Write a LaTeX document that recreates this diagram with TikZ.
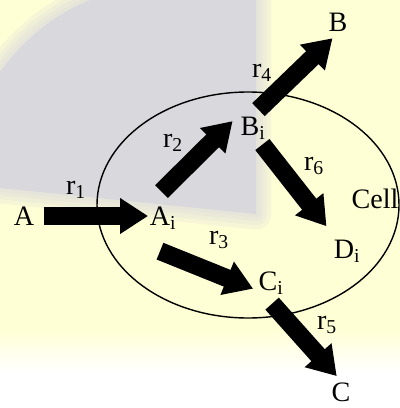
\documentclass[tikz,border=0pt]{standalone}
\usepackage{fontspec}
\setmainfont{Liberation Serif}
\usepackage{xcolor}
\usetikzlibrary{arrows.meta}

\definecolor{paleyellow}{RGB}{255,255,214}
\definecolor{wmgrey}{RGB}{217,216,221}

\begin{document}
\begin{tikzpicture}[
  x=0.025cm, y=-0.025cm,
  lbl/.style={inner sep=1pt, font=\fontsize{20}{23}\selectfont},
  flux/.style={-{Triangle[length=0.7cm,width=0.85cm]}, line width=0.45cm},
  cellwall/.style={draw, line width=1pt}
]
\useasboundingbox (0,0) rectangle (400,408);
% background
\fill[paleyellow] (0,0) rectangle (400,408);
\foreach \w in {22,16,10,5}
  \draw[wmgrey, opacity=0.22, line width=\w, line join=round]
    (90,0) -- (256,0) -- (256,214) -- (0,188) -- (0,72) .. controls (25,38) and (55,14) .. cycle;
\fill[wmgrey] (90,0) -- (256,0) -- (256,214) -- (0,188) -- (0,72) .. controls (25,38) and (55,14) .. cycle;
\shade[top color=paleyellow, bottom color=white] (0,330) rectangle (400,372);
\fill[white] (0,372) rectangle (400,408);

% the cell
\draw[cellwall] (248,205) ellipse [x radius=151, y radius=113];

\node[lbl] (A) at (24,216) {A};
\node[lbl] (Ai) at (163,218) {A\textsubscript{i}};
\node[lbl] (Bi) at (253,128) {B\textsubscript{i}};
\node[lbl] (B) at (338,22) {B};
\node[lbl] (Ci) at (271,283) {C\textsubscript{i}};
\node[lbl] (C) at (341,392) {C};
\node[lbl] (Di) at (347,251) {D\textsubscript{i}};
\node[lbl] (cellname) at (375,199) {Cell};

\node[lbl] (r1) at (76,190) {r\textsubscript{1}};
\node[lbl] (r2) at (173,143) {r\textsubscript{2}};
\node[lbl] (r3) at (219,240) {r\textsubscript{3}};
\node[lbl] (r4) at (262,73) {r\textsubscript{4}};
\node[lbl] (r5) at (327,325) {r\textsubscript{5}};
\node[lbl] (r6) at (314,166) {r\textsubscript{6}};

\draw[flux, shorten <=0.2cm] (A.east) -- (A.east -| Ai.west);
\draw[flux, shorten <=0.47cm, shorten >=0.22cm] (Ai.north west) -- (Bi.north west);
\draw[flux, shorten <=0.19cm, shorten >=0.19cm] (Bi.north) -- (B.south);
\draw[flux, shorten <=0.11cm, shorten >=0.37cm] (Bi.-63) -- (Di.131);
\draw[flux, shorten >=0.1cm] ([shift={(-3,20)}]Ai.south) -- (Ci.207);
\draw[flux, shorten <=0.25cm, shorten >=0.16cm] (Ci.247) -- (C.north);
\end{tikzpicture}
\end{document}
